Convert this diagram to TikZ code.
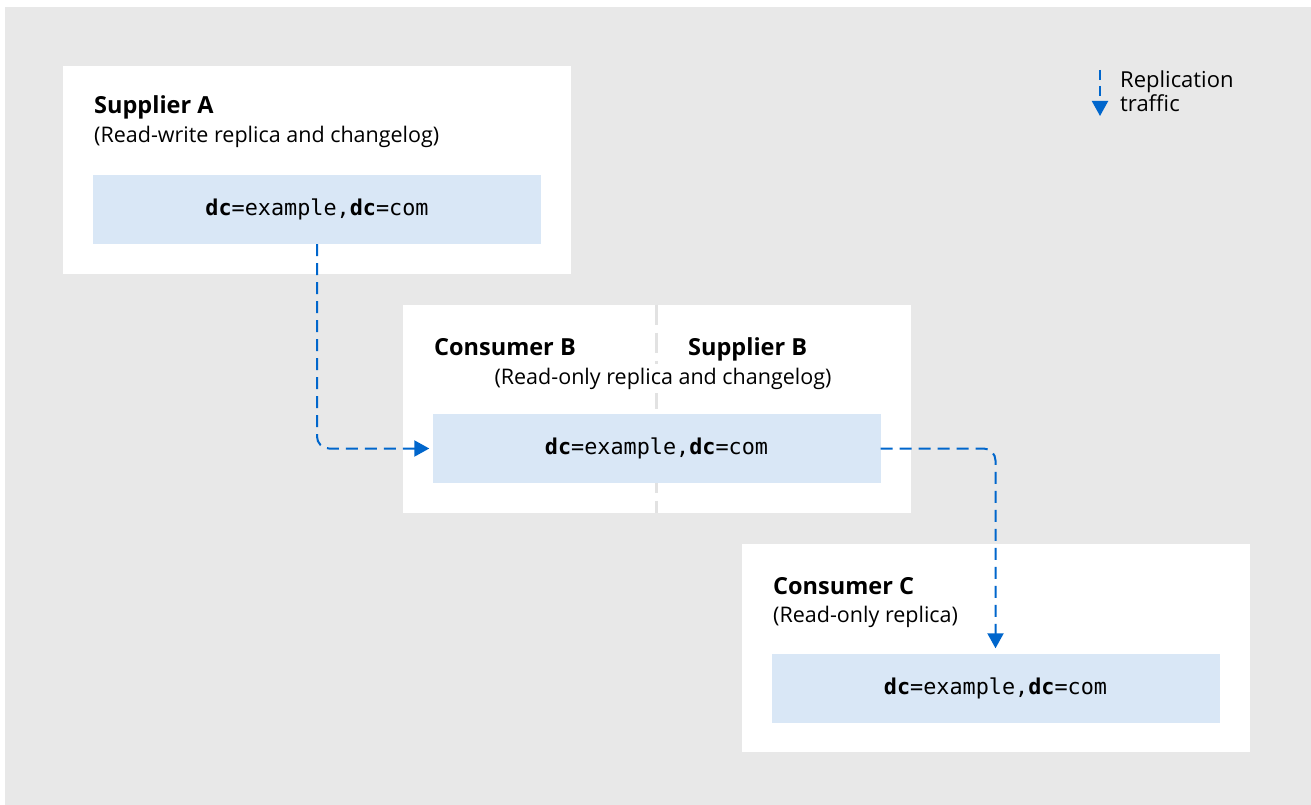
\documentclass[tikz,border=0pt]{standalone}
\usepackage{fontspec}
\setmainfont{Open Sans}
\setmonofont{DejaVu Sans Mono}
\usetikzlibrary{positioning,arrows.meta}
\definecolor{bggray}{HTML}{E8E8E8}
\definecolor{storeblue}{HTML}{D9E7F6}
\definecolor{trafficblue}{HTML}{0066CC}
\definecolor{divgray}{HTML}{E2E2E2}
\newcommand{\suffix}{\textbf{dc}=example,\textbf{dc}=com}
\begin{document}
\begin{tikzpicture}[x=1pt, y=-1pt,
    server/.style = {fill=white, minimum width=508pt, minimum height=208pt, inner sep=0pt},
    store/.style = {fill=storeblue, minimum width=448pt, minimum height=69pt, inner sep=0pt, font=\ttfamily\fontsize{21.8}{24}\selectfont},
    title/.style = {anchor=base west, inner sep=0pt, font=\bfseries\fontsize{23.5}{28}\selectfont},
    sub/.style = {anchor=base west, inner sep=0pt, font=\fontsize{21.5}{26}\selectfont},
    traffic/.style = {draw=trafficblue, line width=2pt, dash pattern=on 12pt off 7pt, rounded corners=12pt, -{Triangle[width=16pt,length=15pt]}}]
    \useasboundingbox (0,0) rectangle (1311,805);
    \fill[bggray] (5,7) rectangle (1311,805);
    % supplier A
    \node[server] (srvA) at (317,170) {};
    \node[title] (titA) at (94,114) {Supplier A};
    \node[sub] (subA) at (94,143) {(Read-write replica and changelog)};
    \node[store] (dbA) at (317,209.5) {\suffix};
    % consumer B / supplier B
    \node[server] (srvB) at (656.5,409) {};
    \draw[divgray, line width=3pt, dash pattern=on 20pt off 8pt] (srvB.north) -- (srvB.south);
    \node[title] (titB1) at (434,355) {Consumer B};
    \node[title] (titB2) at (688,355) {Supplier B};
    \node[sub, anchor=base, fill=white, inner sep=4pt] (subB) at (663,384) {(Read-only replica and changelog)};
    \node[store] (dbB) at (656.5,448.5) {\suffix};
    % consumer C
    \node[server] (srvC) at (995.5,648) {};
    \node[title] (titC) at (773,594) {Consumer C};
    \node[sub] (subC) at (773,622) {(Read-only replica)};
    \node[store] (dbC) at (995.5,688) {\suffix};
    % legend
    \coordinate (legtop) at (1100,70);
    \coordinate (legbot) at (1100,116);
    \draw[traffic, dash pattern=on 10pt off 6pt] (legtop) -- (legbot);
    \node[anchor=base west, inner sep=0pt, align=left, font=\fontsize{22}{24}\selectfont] (legtxt) at (1120,112) {Replication\\traffic};
    % replication traffic
    \draw[traffic, shorten >=3pt] (dbA.south) |- (dbB.west);
    \draw[traffic, shorten >=5pt] (dbB.east) -| (dbC.north);
\end{tikzpicture}
\end{document}
